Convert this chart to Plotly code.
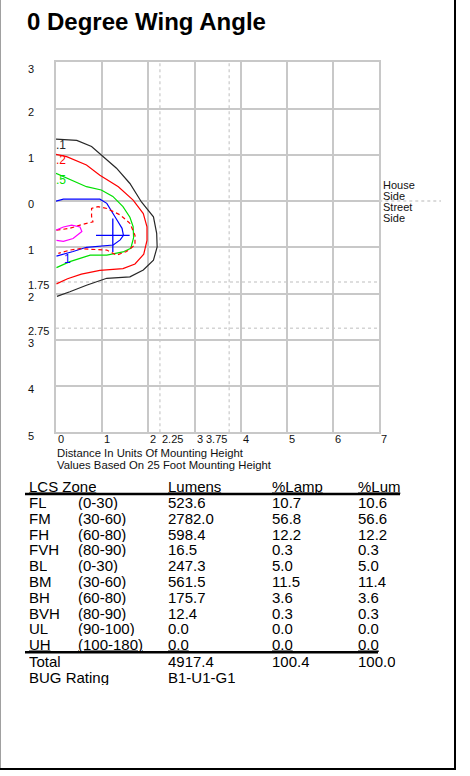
import plotly.graph_objects as go

# ---------------- data ----------------
title_text = "0 Degree Wing Angle"

# iso-footcandle contours (x: distance, y: + house side / - street side)
black_x = [0, 0.45, 0.77, 1.01, 1.31, 1.60, 1.85, 2.11, 2.18, 2.19, 2.11, 1.89, 1.60, 1.10, 0.66, 0.30, 0.02]
black_y = [1.34, 1.31, 1.18, 0.97, 0.71, 0.38, -0.02, -0.34, -0.70, -0.99, -1.28, -1.49, -1.64, -1.67, -1.82, -1.96, -2.06]

red_x = [0, 0.23, 0.66, 0.95, 1.35, 1.67, 1.89, 1.97, 1.97, 1.90, 1.71, 1.45, 0.95, 0.55, 0.25, 0.01]
red_y = [1.01, 0.96, 0.78, 0.56, 0.31, 0.02, -0.27, -0.56, -0.85, -1.15, -1.36, -1.46, -1.50, -1.58, -1.68, -1.79]

green_x = [0, 0.16, 0.66, 0.98, 1.23, 1.45, 1.60, 1.67, 1.68, 1.62, 1.45, 1.10, 0.74, 0.30, 0.01]
green_y = [0.60, 0.53, 0.31, 0.24, 0.10, -0.12, -0.35, -0.55, -0.79, -1.02, -1.10, -1.17, -1.17, -1.31, -1.44]

blue_x = [0, 0.16, 0.95, 1.10, 1.32, 1.43, 1.46, 1.39, 1.24, 0.95, 0.66, 0.37, 0.01]
blue_y = [0.0, 0.04, 0.04, -0.05, -0.41, -0.59, -0.74, -0.84, -0.95, -0.97, -1.00, -1.09, -1.19]

reddash_x = [0.01, 0.30, 0.52, 0.80, 0.77, 0.77, 0.91, 1.10, 1.39, 1.60, 1.71, 1.71, 1.53, 1.31, 1.10, 0.88, 0.52, 0.30, 0.05]
reddash_y = [-0.63, -0.59, -0.52, -0.45, -0.33, -0.16, -0.12, -0.16, -0.30, -0.48, -0.74, -0.95, -1.09, -1.17, -1.06, -1.05, -1.03, -1.06, -1.13]

magenta_x = [0, 0.16, 0.34, 0.52, 0.56, 0.37, 0.16, 0.01]
magenta_y = [-0.63, -0.56, -0.52, -0.56, -0.66, -0.81, -0.87, -0.85]

max_x = [1.23]
max_y = [-0.74]

contour_labels = [".1", ".2", ".5", "1"]
contour_label_x = [0.0, 0.0, 0.0, 0.17]
contour_label_y = [1.21, 0.89, 0.45, -1.26]

xtick_vals = [0, 1, 2, 2.25, 3, 3.75, 4, 5, 6, 7]
xtick_text = ["0", "1", "2", "2.25", "3", "3.75", "4", "5", "6", "7"]
ytick_vals = [3, 2, 1, 0, -1, -1.75, -2, -2.75, -3, -4, -5]
ytick_text = ["3", "2", "1", "0", "1", "1.75", "2", "2.75", "3", "4", "5"]
minor_x = [2.25, 3.75]
minor_y = [-1.75, -2.75]

x_title_lines = ["Distance In Units Of Mounting Height", "Values Based On 25 Foot Mounting Height"]
side_labels_house = ["House", "Side"]
side_labels_street = ["Street", "Side"]

table_header = ["LCS Zone", "Lumens", "%Lamp", "%Lum"]
zones = ["FL", "FM", "FH", "FVH", "BL", "BM", "BH", "BVH", "UL", "UH"]
zone_ranges = ["(0-30)", "(30-60)", "(60-80)", "(80-90)", "(0-30)", "(30-60)", "(60-80)", "(80-90)", "(90-100)", "(100-180)"]
lumens = ["523.6", "2782.0", "598.4", "16.5", "247.3", "561.5", "175.7", "12.4", "0.0", "0.0"]
pct_lamp = ["10.7", "56.8", "12.2", "0.3", "5.0", "11.5", "3.6", "0.3", "0.0", "0.0"]
pct_lum = ["10.6", "56.6", "12.2", "0.3", "5.0", "11.4", "3.6", "0.3", "0.0", "0.0"]
total_row = ["Total", "4917.4", "100.4", "100.0"]
bug_row = ["BUG Rating", "B1-U1-G1"]

# ---------------- layout helpers ----------------
W, H = 470, 776
FONT = "Liberation Sans, Arial, sans-serif"


def px(x):
    return x / W


def py(y):
    return 1 - y / H


plot_left, plot_right, plot_top, plot_bottom = 56, 379.3, 62.3, 432.3
grid_col = "#c8c8c8"

fig = go.Figure()

lines = [
    (black_x, black_y, "#282828", "solid"),
    (red_x, red_y, "#ff0000", "solid"),
    (green_x, green_y, "#00e000", "solid"),
    (blue_x, blue_y, "#0000ff", "solid"),
    (reddash_x, reddash_y, "#ff0000", "4px,3px"),
    (magenta_x, magenta_y, "#ff00ff", "solid"),
]
for xs, ys, col, dash in lines:
    fig.add_trace(go.Scatter(x=xs, y=ys, mode="lines", line=dict(color=col, width=1.2, dash=dash),
                             hoverinfo="skip", showlegend=False))

fig.add_trace(go.Scatter(x=max_x, y=max_y, mode="markers",
                         marker=dict(symbol="cross-thin", size=24, line=dict(color="#0000ff", width=1.3)),
                         hoverinfo="skip", showlegend=False))

label_colors = ["#282828", "#ff0000", "#00e000", "#0000ff"]
ann = []
for t, xv, yv, c in zip(contour_labels, contour_label_x, contour_label_y, label_colors):
    ann.append(dict(text=t, x=xv, y=yv, xref="x", yref="y", xanchor="left", yanchor="middle",
                    showarrow=False, xshift=-2, font=dict(family=FONT, size=12, color=c)))

# title
ann.append(dict(text="<b>" + title_text + "</b>", x=px(25), y=py(21), xref="paper", yref="paper",
                xanchor="left", yanchor="middle", showarrow=False,
                font=dict(family=FONT, size=24, color="black")))

# y tick labels
for v, t in zip(ytick_vals, ytick_text):
    shift = -3
    if v == 3:
        shift = -7
    if v == -5:
        shift = -4
    ann.append(dict(text=t, x=px(26), y=v, xref="paper", yref="y", xanchor="left", yanchor="middle",
                    yshift=shift, showarrow=False, font=dict(family=FONT, size=11, color="#111")))

# x tick labels
for v, t in zip(xtick_vals, xtick_text):
    ann.append(dict(text=t, x=v, y=py(plot_bottom), xref="x", yref="paper",
                    xanchor="right" if t == "3.75" else "left", yanchor="top", yshift=1,
                    showarrow=False, font=dict(family=FONT, size=11, color="#111")))

for i, t in enumerate(x_title_lines):
    ann.append(dict(text=t, x=px(55), y=py(453 + 12 * i), xref="paper", yref="paper",
                    xanchor="left", yanchor="middle", showarrow=False,
                    font=dict(family=FONT, size=11.3, color="#111")))

for i, t in enumerate(side_labels_house):
    ann.append(dict(text=t, x=px(381), y=0, xref="paper", yref="y", xanchor="left", yanchor="middle",
                    yshift=16 - 11 * i, showarrow=False, font=dict(family=FONT, size=11, color="#111")))
for i, t in enumerate(side_labels_street):
    ann.append(dict(text=t, x=px(381), y=0, xref="paper", yref="y", xanchor="left", yanchor="middle",
                    yshift=-6 - 11 * i, showarrow=False, font=dict(family=FONT, size=11, color="#111")))

# table
col_x = [27, 76, 166, 270, 356]
tfont = dict(family=FONT, size=15, color="black")
header_y = 485.5
row0_y = 502
row_h = 15.8


def ul(s):
    return '<span style="text-decoration:underline">' + s + "</span>"


def tcell(text, x, y):
    ann.append(dict(text=text, x=px(x), y=py(y), xref="paper", yref="paper", xanchor="left",
                    yanchor="middle", showarrow=False, font=tfont, height=16))


tcell(ul(table_header[0]), col_x[0], header_y)
tcell(ul(table_header[1]), col_x[2], header_y)
tcell(ul(table_header[2]), col_x[3], header_y)
tcell(ul(table_header[3]), col_x[4], header_y)
for i in range(len(zones)):
    yy = row0_y + i * row_h
    last = i == len(zones) - 1
    for c, val in enumerate([zones[i], zone_ranges[i], lumens[i], pct_lamp[i], pct_lum[i]]):
        tcell(ul(val) if last else val, col_x[c], yy)
total_y = row0_y + len(zones) * row_h + 1
tcell(total_row[0], col_x[0], total_y)
tcell(total_row[1], col_x[2], total_y)
tcell(total_row[2], col_x[3], total_y)
tcell(total_row[3], col_x[4], total_y)
bug_y = total_y + 16
tcell(bug_row[0], col_x[0], bug_y)
tcell(bug_row[1], col_x[2], bug_y)

shapes = []
# minor dashed reference lines
for v in minor_x:
    shapes.append(dict(type="line", xref="x", yref="y", x0=v, x1=v, y0=-5, y1=3,
                       line=dict(color="#d4d4d4", width=1.5, dash="3px,3px"), layer="below"))
for v in minor_y:
    shapes.append(dict(type="line", xref="x", yref="y", x0=0, x1=7, y0=v, y1=v,
                       line=dict(color="#d4d4d4", width=1.5, dash="3px,3px"), layer="below"))
shapes.append(dict(type="line", xref="paper", yref="y", x0=px(plot_right), x1=px(441), y0=0, y1=0,
                   line=dict(color="#d0d0d0", width=1.5, dash="3px,3px")))
# table rules
shapes.append(dict(type="line", xref="paper", yref="paper", x0=px(25), x1=px(400), y0=py(494), y1=py(494),
                   line=dict(color="black", width=2.5)))
uh_line = row0_y + 9 * row_h + 8
shapes.append(dict(type="line", xref="paper", yref="paper", x0=px(25), x1=px(378), y0=py(uh_line), y1=py(uh_line),
                   line=dict(color="black", width=2.5)))
# outer frame
shapes.append(dict(type="line", xref="paper", yref="paper", x0=px(0.5), x1=px(0.5), y0=py(0), y1=py(770),
                   line=dict(color="#a0a0a0", width=1)))
shapes.append(dict(type="line", xref="paper", yref="paper", x0=px(455), x1=px(455), y0=py(0), y1=py(770),
                   line=dict(color="black", width=2)))
shapes.append(dict(type="line", xref="paper", yref="paper", x0=px(0), x1=px(456), y0=py(769), y1=py(769),
                   line=dict(color="black", width=2)))

axis_common = dict(showgrid=True, dtick=1, gridcolor=grid_col, gridwidth=1.5, showline=True,
                   linecolor=grid_col, linewidth=1.5, mirror=True, zeroline=False,
                   showticklabels=False, ticks="", fixedrange=True)

fig.update_layout(
    width=W, height=H, margin=dict(l=0, r=0, t=0, b=0),
    paper_bgcolor="white", plot_bgcolor="white", showlegend=False,
    xaxis=dict(range=[0, 7], domain=[px(plot_left), px(plot_right)], tick0=0, **axis_common),
    yaxis=dict(range=[-5, 3], domain=[py(plot_bottom), py(plot_top)], tick0=0, **axis_common),
    annotations=ann, shapes=shapes,
)

fig.write_html("out.html", config={"displayModeBar": False},
               post_script="document.body.style.margin='0';document.body.style.overflow='hidden';")
